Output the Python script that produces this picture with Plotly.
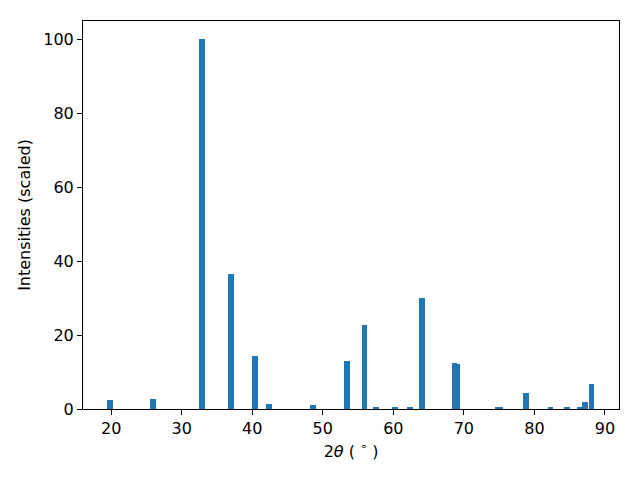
import plotly.graph_objects as go

two_theta = [19.86, 25.95, 32.9, 37.0, 40.4, 42.4, 48.6, 53.4, 55.9, 57.5, 60.2, 62.4,
             64.1, 68.7, 69.0, 74.8, 75.1, 78.8, 82.3, 84.6, 86.5, 87.2, 88.1]
intensity = [2.4, 2.7, 100.0, 36.5, 14.4, 1.35, 1.1, 13.0, 22.8, 0.5, 0.5, 0.3,
             30.0, 12.5, 12.2, 0.3, 0.5, 4.3, 0.3, 0.3, 0.3, 1.9, 6.8]
x_ticks = [20, 30, 40, 50, 60, 70, 80, 90]
y_ticks = [0, 20, 40, 60, 80, 100]

fig = go.Figure(go.Bar(x=two_theta, y=intensity, width=0.8,
                       marker=dict(color="#1f77b4", line=dict(width=0))))

FONT = "DejaVu Sans"
axis_common = dict(showline=True, linecolor="black", linewidth=1, mirror=True,
                   ticks="outside", ticklen=5, tickwidth=1, tickcolor="black",
                   showgrid=False, zeroline=False,
                   tickfont=dict(family=FONT, size=16, color="black"))

fig.update_xaxes(range=[16.0, 92.0], tickvals=x_ticks,
                 title=dict(text="2<i>θ</i> ( <sup>∘</sup> )", standoff=8,
                            font=dict(family=FONT, size=16, color="black")),
                 **axis_common)
fig.update_yaxes(range=[0, 105], tickvals=y_ticks,
                 title=dict(text="Intensities (scaled)", standoff=8,
                            font=dict(family=FONT, size=16, color="black")),
                 **axis_common)

fig.update_layout(width=640, height=480, margin=dict(l=75, r=29, t=13, b=79, autoexpand=False),
                  plot_bgcolor="white", paper_bgcolor="white", showlegend=False,
                  bargap=0)

fig.write_html("out.html")
